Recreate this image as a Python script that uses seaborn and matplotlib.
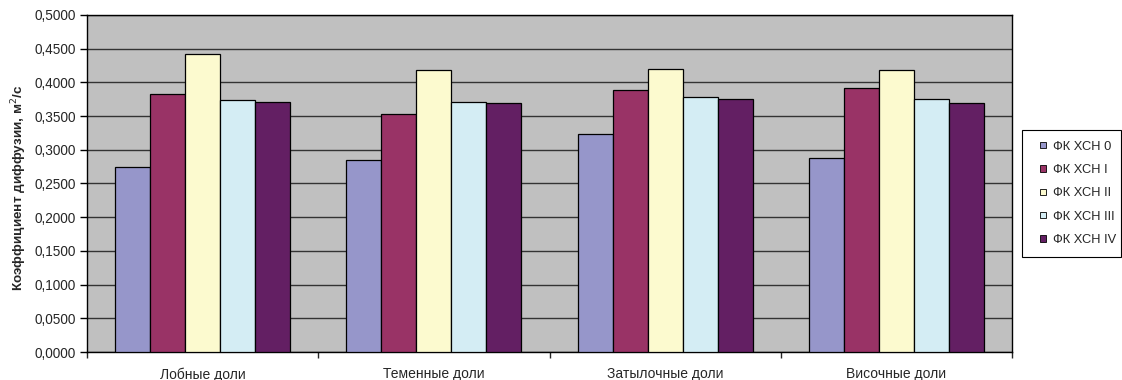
import matplotlib
matplotlib.use("Agg")
import matplotlib.pyplot as plt
import matplotlib.ticker as mticker
from matplotlib import font_manager
from matplotlib.patches import Patch, Rectangle
from matplotlib.legend_handler import HandlerPatch
import seaborn as sns
import pandas as pd

# Brain regions (x categories)
regions = ["Лобные доли", "Теменные доли", "Затылочные доли", "Височные доли"]
# Functional class groups (hue)
groups = ["ФК ХСН 0", "ФК ХСН I", "ФК ХСН II", "ФК ХСН III", "ФК ХСН IV"]
# Diffusion coefficient per group, one value per region
fk0 = [0.2738, 0.2846, 0.3238, 0.2871]
fk1 = [0.3835, 0.3532, 0.3894, 0.3919]
fk2 = [0.4415, 0.4184, 0.4194, 0.4184]
fk3 = [0.3738, 0.3703, 0.3776, 0.3753]
fk4 = [0.3713, 0.3694, 0.3753, 0.3694]

colors = ["#9696CA", "#993366", "#FCFACF", "#D4EDF4", "#631F63"]

rows = []
for g, vals in zip(groups, [fk0, fk1, fk2, fk3, fk4]):
    for r, v in zip(regions, vals):
        rows.append({"region": r, "group": g, "value": v})
df = pd.DataFrame(rows)

sns.set_style("white")

# pick the regular (non-narrow) Liberation Sans face explicitly
family = ["DejaVu Sans"]
for path in font_manager.findSystemFonts():
    name = path.rsplit("/", 1)[-1]
    if name == "LiberationSans-Regular.ttf":
        font_manager.fontManager.addfont(path)
        fam = font_manager.FontProperties(fname=path).get_name()
        family = [fam, "DejaVu Sans"]
        break
plt.rcParams["font.family"] = family

W, H = 1122, 380
fig = plt.figure(figsize=(W / 100, H / 100), dpi=100)
ax = fig.add_axes([87 / W, 1 - 352 / H, (1012 - 87) / W, (352 - 15) / H])
ax.set_facecolor("#C0C0C0")

sns.barplot(data=df, x="region", y="value", hue="group", order=regions,
            hue_order=groups, palette=colors, saturation=1, width=0.757, gap=0,
            edgecolor="black", linewidth=0.9, ax=ax, legend=False, zorder=3)

ax.set_ylim(0, 0.5)
ax.set_xlim(-0.5, len(regions) - 0.5)
ax.yaxis.set_major_locator(mticker.MultipleLocator(0.05))
ax.yaxis.set_major_formatter(mticker.FuncFormatter(lambda v, p: f"{v:.4f}".replace(".", ",")))
ax.grid(axis="y", color="#333333", linewidth=1.0, zorder=0)
ax.set_axisbelow(True)

for s in ax.spines.values():
    s.set_color("black")
    s.set_linewidth(1.0)

ax.tick_params(axis="y", direction="out", length=5, width=1, color="black",
               labelsize=9.8, pad=3, left=True)
# category ticks sit on the group boundaries
ax.set_xticks([i - 0.5 for i in range(len(regions) + 1)], minor=False)
ax.set_xticklabels([])
ax.set_xticks(range(len(regions)), minor=True)
ax.set_xticklabels(regions, minor=True, fontsize=10)
ax.tick_params(axis="x", which="major", direction="out", length=4, width=1, bottom=True)
ax.tick_params(axis="x", which="minor", length=0, pad=11)

ax.set_xlabel("")
ax.set_ylabel("")
fig.text(19 / W, 1 - 188 / H, "Коэффициент диффузии, м$^2$/с",
         rotation=90, ha="center", va="center", fontsize=9.7, fontweight="bold")


def small_square(legend, orig_handle, xdescent, ydescent, width, height, fontsize):
    s = 4.6
    return Rectangle((-xdescent + width - s, -ydescent + (height - s) / 2), s, s)


# legend box with its own frame
fig.patches.append(Rectangle((1022 / W, 1 - 257 / H), 99 / W, 127 / H,
                             transform=fig.transFigure, facecolor="white",
                             edgecolor="black", linewidth=0.8, zorder=1))
handles = [Patch(facecolor=c, edgecolor="black", linewidth=0.6) for c in colors]
leg = fig.legend(handles, groups, loc="upper left",
                 bbox_to_anchor=(1022 / W, 1 - 140.5 / H),
                 frameon=False, fontsize=9.3, handlelength=1.86, handleheight=0.7,
                 handletextpad=0.54, labelspacing=0.88, borderpad=0,
                 borderaxespad=0,
                 handler_map={Patch: HandlerPatch(patch_func=small_square)})
leg.set_zorder(2)

fig.savefig("out.png", dpi=100)
